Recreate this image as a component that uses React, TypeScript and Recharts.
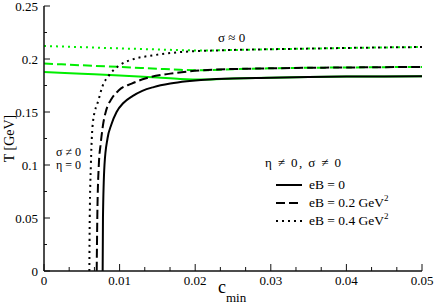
import { LineChart, Line, XAxis, YAxis, Legend, Customized } from 'recharts'

const SERIF = '"Liberation Serif", "DejaVu Serif", serif'
const GREEN = '#00ee00'
const INK = '#111111'

// plot box (chart margins + axis sizes below produce this)
const LEFT = 44
const TOP = 6
const RIGHT = 422
const BOTTOM = 271

// x ticks (c_min)
const X_MAJOR = [0, 0.01, 0.02, 0.03, 0.04, 0.05]
const X_MINOR = [0.00333, 0.00667, 0.01333, 0.01667, 0.02333, 0.02667, 0.03333, 0.03667, 0.04333, 0.04667]
// y ticks (T)
const Y_MAJOR = [0, 0.05, 0.1, 0.15, 0.2, 0.25]
const Y_MINOR_LEFT = [0.025, 0.075, 0.125, 0.175, 0.225]
const Y_MINOR_RIGHT = [0.0125, 0.025, 0.0375, 0.0625, 0.075, 0.0875, 0.1125, 0.125, 0.1375, 0.1625, 0.175, 0.1875, 0.2125, 0.225, 0.2375]

// green curves (eta != 0, sigma != 0), all start at c = 0
const GREEN_C = [0, 0.005, 0.01, 0.015, 0.018, 0.021, 0.025, 0.03, 0.035, 0.04, 0.045, 0.05]
const GREEN_EB0 = [0.1877, 0.1861, 0.1845, 0.1825, 0.1812, 0.1806, 0.1816, 0.1824, 0.183, 0.1834, 0.1836, 0.1838]
const GREEN_EB02 = [0.1957, 0.1941, 0.1925, 0.1908, 0.1898, 0.1893, 0.1904, 0.1912, 0.1917, 0.192, 0.1923, 0.1925]
const GREEN_EB04 = [0.2123, 0.2112, 0.21, 0.209, 0.2084, 0.208, 0.2085, 0.2092, 0.2098, 0.2104, 0.2109, 0.2113]

// black curves (sigma != 0, eta = 0)
const BLACK_EB0_C = [0.00776, 0.0078, 0.008, 0.0084, 0.0089, 0.0096, 0.0105, 0.0117, 0.013, 0.0145, 0.0167, 0.0189, 0.0228, 0.03, 0.035, 0.04, 0.045, 0.05]
const BLACK_EB0_T = [0, 0.05, 0.1, 0.125, 0.138, 0.15, 0.1585, 0.165, 0.17, 0.1735, 0.1768, 0.179, 0.1812, 0.1824, 0.183, 0.1834, 0.1836, 0.1838]
const BLACK_EB02_C = [0.00697, 0.00705, 0.00725, 0.0075, 0.0078, 0.0082, 0.0089, 0.0099, 0.0116, 0.0135, 0.0167, 0.0193, 0.0228, 0.03, 0.035, 0.04, 0.045, 0.05]
const BLACK_EB02_T = [0, 0.05, 0.1, 0.12, 0.1375, 0.151, 0.162, 0.1705, 0.1768, 0.1818, 0.1862, 0.1884, 0.19, 0.1912, 0.1917, 0.192, 0.1923, 0.1925]
const BLACK_EB04_C = [0.006, 0.00605, 0.0062, 0.0065, 0.0072, 0.0077, 0.0086, 0.0101, 0.0119, 0.0145, 0.0175, 0.0233, 0.03, 0.035, 0.04, 0.045, 0.05]
const BLACK_EB04_T = [0, 0.05, 0.1, 0.142, 0.161, 0.1736, 0.1846, 0.1945, 0.2, 0.2035, 0.2062, 0.2082, 0.2092, 0.2098, 0.2104, 0.2109, 0.2113]

const LEGEND_LABELS = ['eB = 0', 'eB = 0.2 GeV', 'eB = 0.4 GeV']
const LEGEND_SUP = ['', '2', '2']
const LEGEND_DASH = ['', '9 4', '2 4']

const toPoints = (cs: number[], ts: number[]) => cs.map((c, i) => ({ c, T: ts[i] }))

const fmt = (v: number) => String(Math.round(v * 1000) / 1000)

const isMajor = (v: number, majors: number[]) => majors.some((m) => Math.abs(m - v) < 1e-6)

const textStyle = { fontFamily: SERIF }

function BottomTick(props: any) {
  const { x, payload } = props
  const major = isMajor(payload.value, X_MAJOR)
  return (
    <g>
      <line x1={x} x2={x} y1={BOTTOM} y2={BOTTOM - (major ? 7 : 4)} stroke={INK} strokeWidth={1} />
      {major && (
        <text x={x} y={BOTTOM + 14} textAnchor="middle" style={textStyle} fontSize={13} fill="#000">
          {fmt(payload.value)}
        </text>
      )}
    </g>
  )
}

function TopTick(props: any) {
  const { x, payload } = props
  const major = isMajor(payload.value, X_MAJOR)
  return <line x1={x} x2={x} y1={TOP} y2={TOP + (major ? 7 : 4)} stroke={INK} strokeWidth={1} />
}

function LeftTick(props: any) {
  const { y, payload } = props
  const major = isMajor(payload.value, Y_MAJOR)
  return (
    <g>
      <line x1={LEFT} x2={LEFT + (major ? 6 : 3)} y1={y} y2={y} stroke={INK} strokeWidth={1} />
      {major && (
        <text x={LEFT - 6} y={y + 4.5} textAnchor="end" style={textStyle} fontSize={13} fill="#000">
          {fmt(payload.value)}
        </text>
      )}
    </g>
  )
}

function RightTick(props: any) {
  const { y, payload } = props
  const major = isMajor(payload.value, Y_MAJOR)
  return <line x1={RIGHT} x2={RIGHT - (major ? 4 : 3)} y1={y} y2={y} stroke={INK} strokeWidth={1} />
}

function Annotations() {
  const cy = (TOP + BOTTOM) / 2
  return (
    <g style={textStyle} fill="#000">
      <text x={14} y={cy} fontSize={14} textAnchor="middle" transform={`rotate(-90, 14, ${cy})`}>
        T [GeV]
      </text>
      <text x={218} y={293} fontSize={18}>
        c<tspan fontSize={13} dy={9}>min</tspan>
      </text>
      <text x={218} y={42} fontSize={13}>σ ≈ 0</text>
      <text x={265} y={167} fontSize={13} textLength={76}>η ≠ 0, σ ≠ 0</text>
      <text x={56} y={156} fontSize={12}>σ ≠ 0</text>
      <text x={56} y={169} fontSize={12}>η = 0</text>
    </g>
  )
}

function LegendBox() {
  return (
    <svg width={150} height={56} style={{ display: 'block' }}>
      {LEGEND_LABELS.map((label, i) => {
        const cy = 9 + i * 18
        return (
          <g key={label}>
            <line x1={2} x2={28} y1={cy} y2={cy} stroke="#000" strokeWidth={2} strokeDasharray={LEGEND_DASH[i] || undefined} />
            <text x={35} y={cy + 4} style={textStyle} fontSize={13.5} fill="#000">
              {label}
              {LEGEND_SUP[i] && <tspan fontSize={9} dy={-6}>{LEGEND_SUP[i]}</tspan>}
            </text>
          </g>
        )
      })}
    </svg>
  )
}

export default function App() {
  const series = [
    { key: 'g0', data: toPoints(GREEN_C, GREEN_EB0), color: GREEN, dash: undefined },
    { key: 'g2', data: toPoints(GREEN_C, GREEN_EB02), color: GREEN, dash: '9 4' },
    { key: 'g4', data: toPoints(GREEN_C, GREEN_EB04), color: GREEN, dash: '2 4' },
    { key: 'b0', data: toPoints(BLACK_EB0_C, BLACK_EB0_T), color: '#000', dash: undefined },
    { key: 'b2', data: toPoints(BLACK_EB02_C, BLACK_EB02_T), color: '#000', dash: '9 4' },
    { key: 'b4', data: toPoints(BLACK_EB04_C, BLACK_EB04_T), color: '#000', dash: '2 4' },
  ]
  const xTicks = [...X_MAJOR, ...X_MINOR]
  return (
    <div style={{ position: 'absolute', left: 0, top: 0, width: 436, height: 306, background: '#fff', fontFamily: SERIF }}>
      <LineChart width={436} height={306} margin={{ top: TOP, right: 436 - RIGHT, bottom: 0, left: 0 }}>
        <XAxis
          dataKey="c"
          type="number"
          domain={[0, 0.05]}
          allowDataOverflow
          ticks={xTicks}
          interval={0}
          height={306 - BOTTOM}
          tick={BottomTick}
          tickLine={false}
          axisLine={{ stroke: INK, strokeWidth: 1.5 }}
        />
        <XAxis
          xAxisId="top"
          orientation="top"
          dataKey="c"
          type="number"
          domain={[0, 0.05]}
          allowDataOverflow
          ticks={xTicks}
          interval={0}
          height={0}
          tick={TopTick}
          tickLine={false}
          axisLine={{ stroke: INK, strokeWidth: 1.5 }}
        />
        <YAxis
          type="number"
          domain={[0, 0.25]}
          allowDataOverflow
          ticks={[...Y_MAJOR, ...Y_MINOR_LEFT]}
          interval={0}
          width={LEFT}
          tick={LeftTick}
          tickLine={false}
          axisLine={{ stroke: INK, strokeWidth: 1.5 }}
        />
        <YAxis
          yAxisId="right"
          orientation="right"
          type="number"
          domain={[0, 0.25]}
          allowDataOverflow
          ticks={[...Y_MAJOR, ...Y_MINOR_RIGHT]}
          interval={0}
          width={0}
          tick={RightTick}
          tickLine={false}
          axisLine={{ stroke: INK, strokeWidth: 1.5 }}
        />
        {series.map((s) => (
          <Line
            key={s.key}
            data={s.data}
            dataKey="T"
            type="monotone"
            stroke={s.color}
            strokeWidth={2}
            strokeDasharray={s.dash}
            dot={false}
            activeDot={false}
            isAnimationActive={false}
          />
        ))}
        <Customized component={Annotations} />
        <Legend
          layout="vertical"
          align="center"
          verticalAlign="middle"
          wrapperStyle={{ left: 274, top: 176, width: 150, height: 56 }}
          content={() => <LegendBox />}
        />
      </LineChart>
    </div>
  )
}
